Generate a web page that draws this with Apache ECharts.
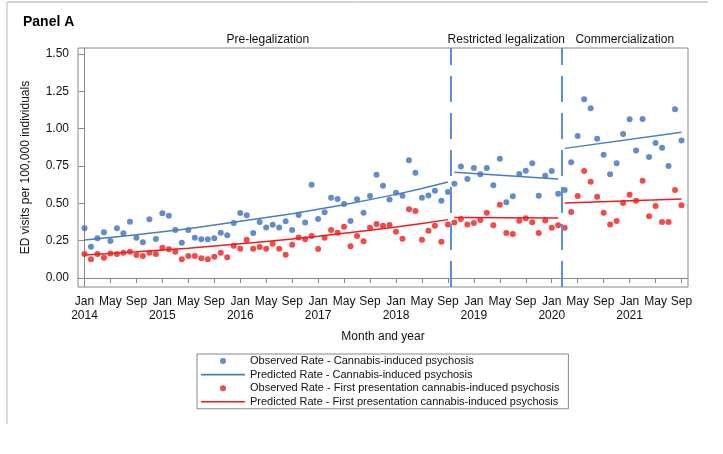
<!DOCTYPE html>
<html>
<head>
<meta charset="utf-8">
<script src="https://cdn.jsdelivr.net/npm/echarts@6/dist/echarts.min.js"></script>
<style>
html,body{margin:0;padding:0;background:#fff;}
#chart{width:723px;height:454px;}
</style>
</head>
<body>
<div id="chart"></div>
<script>
// Month index: 0 = Jan 2014 ... 92 = Sep 2021
const startYear = 2014;
const tickMonths = [0,4,8,12,16,20,24,28,32,36,40,44,48,52,56,60,64,68,72,76,80,84,88,92];
const monthNames = ['Jan','Feb','Mar','Apr','May','Jun','Jul','Aug','Sep','Oct','Nov','Dec'];
const yTicks = [0, 0.25, 0.5, 0.75, 1.0, 1.25, 1.5];

// Observed rate - Cannabis-induced psychosis (monthly, Jan 2014 - Sep 2021)
const obsCip = [
  0.333,0.21,0.266,0.306,0.248,0.333,0.299,0.377,0.27,0.239,0.393,0.261,
  0.433,0.417,0.321,0.236,0.321,0.27,0.259,0.259,0.266,0.304,0.286,0.368,
  0.435,0.42,0.301,0.375,0.339,0.357,0.339,0.38,0.321,0.422,0.371,0.625,
  0.395,0.44,0.538,0.529,0.496,0.382,0.527,0.437,0.549,0.692,0.618,0.525,
  0.571,0.551,0.788,0.705,0.538,0.553,0.585,0.518,0.576,0.632,0.746,0.663,
  0.737,0.694,0.737,0.621,0.799,0.507,0.547,0.696,0.719,0.768,0.551,0.685,
  0.717,0.565,0.589,0.775,0.951,1.197,1.136,0.933,0.826,0.694,0.768,0.964,
  1.063,0.853,1.065,0.81,0.904,0.873,0.75,1.13,0.92
];
// Observed rate - First presentation cannabis-induced psychosis
const obsFirst = [
  0.161,0.125,0.161,0.136,0.165,0.161,0.170,0.176,0.154,0.147,0.170,0.161,
  0.203,0.192,0.176,0.125,0.147,0.147,0.132,0.125,0.143,0.170,0.139,0.216,
  0.196,0.257,0.196,0.208,0.196,0.230,0.196,0.156,0.223,0.272,0.259,0.281,
  0.194,0.270,0.321,0.304,0.344,0.212,0.281,0.246,0.337,0.362,0.350,0.355,
  0.310,0.263,0.46,0.449,0.257,0.317,0.350,0.243,0.359,0.371,0.395,0.359,
  0.368,0.388,0.437,0.353,0.491,0.301,0.295,0.384,0.4,0.373,0.301,0.386,
  0.337,0.353,0.337,0.442,0.549,0.717,0.645,0.545,0.437,0.359,0.382,0.502,
  0.558,0.518,0.652,0.413,0.482,0.375,0.375,0.589,0.487
];

// Predicted rates by period
const predPreMonths   = [0,4,8,12,16,20,24,28,32,36,40,44,48,52,56];
const predCipPre      = [0.254,0.272,0.29,0.31,0.33,0.355,0.38,0.405,0.43,0.46,0.49,0.525,0.56,0.60,0.643];
const predFirstPre    = [0.154,0.165,0.176,0.188,0.20,0.215,0.23,0.245,0.262,0.28,0.30,0.32,0.342,0.365,0.391];
const predRestrMonths = [57,73];
const predCipRestr    = [0.708,0.663];
const predFirstRestr  = [0.406,0.402];
const predCommMonths  = [74,92];
const predCipComm     = [0.868,0.976];
const predFirstComm   = [0.502,0.529];

// Policy periods
const periodNames  = ['Pre-legalization','Restricted legalization','Commercialization'];
const periodStarts = [0, 56.5, 73.5];
const periodEnds   = [56.5, 73.5, 93];
const boundaries   = [56.5, 73.5];

const seriesNames = [
  'Observed Rate - Cannabis-induced psychosis',
  'Predicted Rate - Cannabis-induced psychosis',
  'Observed Rate - First presentation cannabis-induced psychosis',
  'Predicted Rate - First presentation cannabis-induced psychosis'
];

const BLUE = '#3f6fbd';
const BLUE_LINE = '#4a7cc4';
const RED = '#f01c1c';
const FONT = 'Liberation Sans, Arial, sans-serif';
const LINE_ICON = 'path://M0,0 L44,0 L44,1.6 L0,1.6 Z';

function segData(groups) {
  const out = [];
  groups.forEach((g, gi) => {
    if (gi > 0) out.push([null, null]);
    g[0].forEach((m, i) => out.push([m, g[1][i]]));
  });
  return out;
}

const chart = echarts.init(document.getElementById('chart'), null, {renderer: 'canvas'});
chart.setOption({
  backgroundColor: '#fff',
  animation: false,
  textStyle: {fontFamily: FONT},
  title: {
    text: 'Panel A', left: 18, top: 10,
    textStyle: {fontFamily: FONT, fontSize: 14, fontWeight: 'bold', color: '#000'}
  },
  graphic: [
    {type: 'line', shape: {x1: 7, y1: 2, x2: 708, y2: 2}, style: {stroke: '#aaa', lineWidth: 1}},
    {type: 'line', shape: {x1: 7, y1: 2, x2: 7, y2: 424}, style: {stroke: '#bbb', lineWidth: 1}}
  ],
  grid: {
    left: 78, right: 35, top: 48, bottom: 167,
    show: true, borderColor: '#888', borderWidth: 1, backgroundColor: 'transparent'
  },
  legend: {
    orient: 'vertical', left: 197, top: 354,
    data: [
      {name: seriesNames[0], icon: 'circle'},
      {name: seriesNames[1], icon: LINE_ICON},
      {name: seriesNames[2], icon: 'circle'},
      {name: seriesNames[3], icon: LINE_ICON}
    ],
    symbolKeepAspect: true,
    itemWidth: 44, itemHeight: 6, itemGap: 1.6,
    padding: [1, 9, 1, 4],
    borderColor: '#888', borderWidth: 1,
    textStyle: {fontFamily: FONT, fontSize: 11, lineHeight: 12, color: '#111'}
  },
  xAxis: {
    type: 'value', min: -1, max: 93,
    name: 'Month and year', nameLocation: 'middle', nameGap: 44,
    nameTextStyle: {fontFamily: FONT, fontSize: 12, color: '#111'},
    axisLine: {show: true, lineStyle: {color: '#888'}},
    axisTick: {show: true, customValues: tickMonths, length: 5, lineStyle: {color: '#888'}},
    axisLabel: {
      customValues: tickMonths, margin: 8,
      fontFamily: FONT, fontSize: 12, lineHeight: 14, color: '#111',
      formatter: function (v) {
        const m = Math.round(v);
        const name = monthNames[m % 12];
        return (m % 12 === 0) ? name + '\n' + (startYear + m / 12) : name + '\n ';
      }
    },
    splitLine: {show: false}
  },
  yAxis: {
    type: 'value', min: -0.06, max: 1.54,
    name: 'ED visits per 100,000 individuals', nameLocation: 'middle', nameGap: 46,
    nameTextStyle: {fontFamily: FONT, fontSize: 12, color: '#111'},
    axisLine: {show: true, lineStyle: {color: '#888'}},
    axisTick: {show: true, customValues: yTicks, length: 6, lineStyle: {color: '#888'}},
    axisLabel: {
      customValues: yTicks, margin: 9,
      fontFamily: FONT, fontSize: 12, color: '#111',
      formatter: v => v.toFixed(2)
    },
    splitLine: {show: false}
  },
  series: [
    {
      name: seriesNames[0], type: 'scatter', symbol: 'circle', symbolSize: 6,
      itemStyle: {color: BLUE},
      data: obsCip.map((v, i) => [i, v]),
      z: 3
    },
    {
      name: seriesNames[1], type: 'line', symbol: 'none', connectNulls: false,
      lineStyle: {color: BLUE_LINE, width: 1.5}, itemStyle: {color: BLUE_LINE},
      data: segData([[predPreMonths, predCipPre], [predRestrMonths, predCipRestr], [predCommMonths, predCipComm]]),
      z: 4,
      markLine: {
        silent: true, symbol: 'none',
        label: {show: false},
        lineStyle: {color: '#5a8ee2', width: 2, type: [26, 11]},
        data: boundaries.map(b => ({xAxis: b}))
      },
      markArea: {
        silent: true,
        itemStyle: {color: 'transparent'},
        label: {show: true, position: 'top', distance: 2, fontFamily: FONT, fontSize: 12, color: '#111'},
        data: periodNames.map((n, i) => [{name: n, xAxis: periodStarts[i]}, {xAxis: periodEnds[i]}])
      }
    },
    {
      name: seriesNames[2], type: 'scatter', symbol: 'circle', symbolSize: 6,
      itemStyle: {color: RED},
      data: obsFirst.map((v, i) => [i, v]),
      z: 3
    },
    {
      name: seriesNames[3], type: 'line', symbol: 'none', connectNulls: false,
      lineStyle: {color: RED, width: 1.5}, itemStyle: {color: RED},
      data: segData([[predPreMonths, predFirstPre], [predRestrMonths, predFirstRestr], [predCommMonths, predFirstComm]]),
      z: 4
    }
  ]
});
</script>
</body>
</html>
